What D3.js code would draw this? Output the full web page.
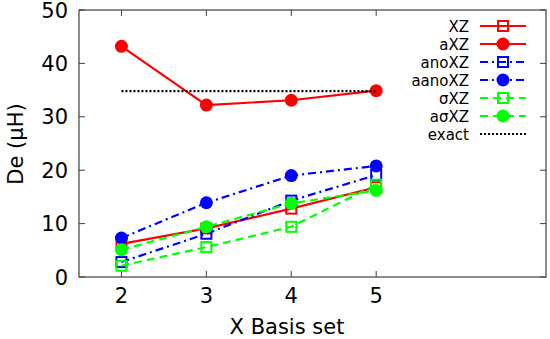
<!DOCTYPE html>
<html>
<head>
<meta charset="utf-8">
<script src="https://cdn.jsdelivr.net/npm/d3@7"></script>
<style>
  body { margin: 0; background: #fff; }
  text { font-family: "DejaVu Sans", sans-serif; fill: #000; }
</style>
</head>
<body>
<script>
// basis set cardinal numbers
var basis = [2, 3, 4, 5];

// series values (microhartree)
var xz      = [6.2, 9.1, 12.8, 16.8];
var axz     = [43.2, 32.2, 33.1, 34.9];
var anoxz   = [2.8, 8.1, 14.3, 19.1];
var aanoxz  = [7.3, 13.9, 19.0, 20.8];
var sxz     = [2.1, 5.6, 9.4, 17.3];
var asxz    = [5.1, 9.4, 13.8, 16.2];
var exact   = 34.8;

var yTicks = [0, 10, 20, 30, 40, 50];

var width = 550, height = 339;
var margin = {left: 79, right: 4, top: 10, bottom: 62};

var svg = d3.select("body").append("svg")
    .attr("width", width)
    .attr("height", height);

var x = d3.scaleLinear().domain([1.5, 7]).range([margin.left, width - margin.right]);
var y = d3.scaleLinear().domain([0, 50]).range([height - margin.bottom, margin.top]);

// series list: built from the arrays above
var series = [
  {name: "XZ",      vals: xz,     color: "#ff0000", dash: null,          marker: "square"},
  {name: "aXZ",     vals: axz,    color: "#ff0000", dash: null,          marker: "circle"},
  {name: "anoXZ",   vals: anoxz,  color: "#0000ff", dash: "8,4,2,4",     marker: "square"},
  {name: "aanoXZ",  vals: aanoxz, color: "#0000ff", dash: "8,4,2,4",     marker: "circle"},
  {name: "\u03c3XZ",  vals: sxz,    color: "#00ff00", dash: "8,5",         marker: "square"},
  {name: "a\u03c3XZ", vals: asxz,   color: "#00ff00", dash: "8,5",         marker: "circle"}
];

var axisColor = "#404040";
var tickLen = 6;

// ticks (mirrored on all four sides)
var g = svg.append("g");
yTicks.forEach(function(t) {
  g.append("line").attr("x1", x.range()[0]).attr("x2", x.range()[0] + tickLen)
    .attr("y1", y(t)).attr("y2", y(t)).attr("stroke", axisColor);
  g.append("line").attr("x1", x.range()[1]).attr("x2", x.range()[1] - tickLen)
    .attr("y1", y(t)).attr("y2", y(t)).attr("stroke", axisColor);
  svg.append("text").attr("x", 68).attr("y", y(t) + 7.5)
    .attr("text-anchor", "end").attr("font-size", "21px").text(t);
});
basis.forEach(function(b) {
  g.append("line").attr("x1", x(b)).attr("x2", x(b))
    .attr("y1", y.range()[0]).attr("y2", y.range()[0] - tickLen).attr("stroke", axisColor);
  g.append("line").attr("x1", x(b)).attr("x2", x(b))
    .attr("y1", y.range()[1]).attr("y2", y.range()[1] + tickLen).attr("stroke", axisColor);
  svg.append("text").attr("x", x(b)).attr("y", 303)
    .attr("text-anchor", "middle").attr("font-size", "21px").text(b);
});

// frame
svg.append("rect")
  .attr("x", x.range()[0]).attr("y", y.range()[1])
  .attr("width", x.range()[1] - x.range()[0])
  .attr("height", y.range()[0] - y.range()[1])
  .attr("fill", "none").attr("stroke", axisColor).attr("stroke-width", 1.2);

// axis labels
svg.append("text").attr("x", 287).attr("y", 334)
  .attr("text-anchor", "middle").attr("font-size", "21px").text("X Basis set");
svg.append("text")
  .attr("transform", "translate(23,144) rotate(-90)")
  .attr("text-anchor", "middle").attr("font-size", "21px").text("De (\u03bcH)");

var line = d3.line()
  .x(function(d, i) { return x(basis[i]); })
  .y(function(d) { return y(d); });

function drawMarker(sel, type, cx, cy, color) {
  if (type == "circle") {
    sel.append("circle").attr("cx", cx).attr("cy", cy).attr("r", 6.5)
      .attr("fill", color);
  } else {
    sel.append("rect").attr("x", cx - 5).attr("y", cy - 5)
      .attr("width", 10).attr("height", 10)
      .attr("fill", "none").attr("stroke", color).attr("stroke-width", 2);
  }
}

series.forEach(function(s) {
  var sg = svg.append("g");
  sg.append("path").datum(s.vals)
    .attr("d", line)
    .attr("fill", "none")
    .attr("stroke", s.color)
    .attr("stroke-width", 2.2)
    .attr("stroke-dasharray", s.dash);
  s.vals.forEach(function(v, i) {
    drawMarker(sg, s.marker, x(basis[i]), y(v), s.color);
  });
});

// exact reference line
svg.append("line")
  .attr("x1", x(basis[0])).attr("x2", x(basis[basis.length - 1]))
  .attr("y1", y(exact)).attr("y2", y(exact))
  .attr("stroke", "#000").attr("stroke-width", 2.2)
  .attr("stroke-dasharray", "2,2");

// legend
var legend = svg.append("g");
var rowH = 18, ly0 = 26, textX = 469, l1 = 480, l2 = 526;
series.concat([{name: "exact", color: "#000", dash: "2,2", marker: null}]).forEach(function(s, i) {
  var yy = ly0 + i * rowH;
  legend.append("text").attr("x", textX).attr("y", yy + 5.5)
    .attr("text-anchor", "end").attr("font-size", "15px").text(s.name);
  legend.append("line").attr("x1", l1).attr("x2", l2)
    .attr("y1", yy).attr("y2", yy)
    .attr("stroke", s.color).attr("stroke-width", 2.2)
    .attr("stroke-dasharray", s.dash);
  if (s.marker) drawMarker(legend, s.marker, (l1 + l2) / 2, yy, s.color);
});
</script>
</body>
</html>
